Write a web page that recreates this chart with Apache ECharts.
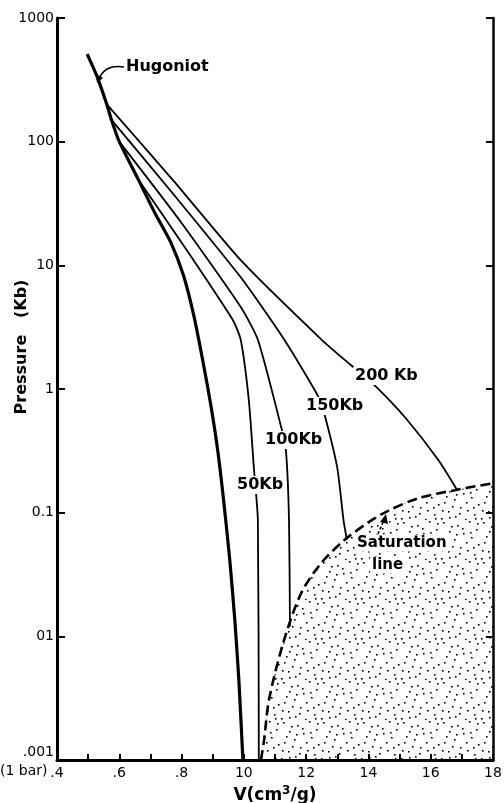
<!DOCTYPE html>
<html>
<head>
<meta charset="utf-8">
<script src="https://cdn.jsdelivr.net/npm/echarts@6/dist/echarts.min.js"></script>
<style>
  html, body { margin: 0; padding: 0; background: #fff; }
  #chart { width: 504px; height: 803px; }
</style>
</head>
<body>
<div id="chart"></div>
<script>
// V (cm3/g) and pressure (Kb)
const hugoniotV = [0.497, 0.53, 0.56, 0.575, 0.60, 0.66, 0.716, 0.765, 0.806, 0.839, 0.868, 0.894, 0.916, 0.935, 0.955, 0.971, 0.984, 0.997]
const hugoniotP = [510, 330, 200, 150, 100, 50, 26, 15.4, 8.3, 3.95, 1.7, 0.74, 0.32, 0.126, 0.041, 0.0135, 0.0044, 0.001]

const kb50V = [0.66, 0.813, 0.965, 0.99, 1.016, 1.032, 1.045, 1.048]
const kb50P = [50, 13.7, 3.6, 2.5, 0.81, 0.233, 0.087, 0.001]

const kb100V = [0.60, 0.80, 0.99, 1.045, 1.12, 1.135, 1.145, 1.148]
const kb100P = [100, 22, 4.6, 2.5, 0.49, 0.32, 0.087, 0.012]

const kb150V = [0.575, 0.78, 0.99, 1.13, 1.24, 1.26, 1.30, 1.32, 1.33]
const kb150P = [150, 36, 8, 2.5, 0.86, 0.61, 0.23, 0.087, 0.062]

const kb200V = [0.56, 0.775, 0.99, 1.25, 1.345, 1.42, 1.52, 1.625, 1.685]
const kb200P = [200, 48, 11, 2.5, 1.55, 1.07, 0.58, 0.265, 0.152]

const saturationV = [1.055, 1.065, 1.081, 1.129, 1.184, 1.248, 1.323, 1.40, 1.465, 1.561, 1.677, 1.80]
const saturationP = [0.001, 0.00145, 0.0031, 0.0093, 0.0223, 0.039, 0.060, 0.0835, 0.104, 0.131, 0.152, 0.173]

const xTickLabels = ['.4', '.6', '.8', '10', '12', '14', '16', '18']
const yTickLabels = ['.001', '01', '0.1', '1', '10', '100', '1000']

const pairs = (xs, ys) => xs.map((x, i) => [x, ys[i]])

// stipple tile for the two-phase region
const stippleDots = [[3,2],[17,5],[29,1],[36,9],[9,11],[23,13],[14,19],[31,17],[4,22],[38,24],
  [20,27],[27,30],[8,31],[34,34],[15,36],[1,38],[25,39],[11,6],[33,27],[19,33],[6,16],[26,22],
  [12,26],[37,3],[22,8],[2,30],[30,12],[16,14],[35,38],[9,37]]
const tile = document.createElement('canvas')
tile.width = 40
tile.height = 40
const tctx = tile.getContext('2d')
tctx.fillStyle = '#000'
stippleDots.forEach(d => tctx.fillRect(d[0], d[1], 1.6, 1.6))

const chart = echarts.init(document.getElementById('chart'))

const font = 'DejaVu Sans'
const curve = (name, xs, ys, width) => ({
  name,
  type: 'line',
  data: pairs(xs, ys),
  symbol: 'none',
  smooth: 0.2,
  lineStyle: { color: '#000', width },
  z: 3
})

const label = (text, x, y, size) => ({
  type: 'text',
  x, y,
  z: 100,
  style: {
    text,
    fill: '#000',
    font: 'bold ' + (size || 16) + 'px ' + font,
    align: 'left',
    verticalAlign: 'middle',
    backgroundColor: '#fff',
    padding: [1, 2]
  }
})

const option = {
  animation: false,
  backgroundColor: '#fff',
  grid: { left: 57, right: 11, top: 18, bottom: 43, outerBoundsMode: 'none' },
  xAxis: {
    type: 'value',
    min: 0.4,
    max: 1.8,
    interval: 0.2,
    name: 'V(cm{sup|3}/g)',
    nameLocation: 'middle',
    nameGap: 24,
    nameTextStyle: {
      fontFamily: font, fontSize: 17, fontWeight: 'bold', color: '#000',
      rich: { sup: { fontFamily: font, fontSize: 12, fontWeight: 'bold', padding: [0, 0, 9, 0] } }
    },
    axisLine: { lineStyle: { color: '#000', width: 3 } },
    axisTick: { inside: true, length: 6, lineStyle: { color: '#000', width: 2 } },
    minorTick: { show: true, splitNumber: 2, length: 6, lineStyle: { color: '#000', width: 2 } },
    splitLine: { show: false },
    axisLabel: {
      color: '#000', fontFamily: font, fontSize: 14, margin: 6,
      formatter: v => xTickLabels[Math.round((v - 0.4) / 0.2)]
    }
  },
  yAxis: [{
    type: 'log',
    logBase: 10,
    min: 0.001,
    max: 1000,
    position: 'left',
    axisLine: { show: true, lineStyle: { color: '#000', width: 3 } },
    axisTick: { show: true, inside: true, length: 8, lineStyle: { color: '#000', width: 2 } },
    splitLine: { show: false },
    axisLabel: {
      color: '#000', fontFamily: font, fontSize: 14, margin: 3, align: 'right',
      formatter: v => {
        const i = Math.round(Math.log10(v)) + 3
        // the bottom label sits a little above its tick, over "(1 bar)"
        return i === 0 ? '{low|' + yTickLabels[i] + '}' : yTickLabels[i]
      },
      rich: { low: { fontFamily: font, fontSize: 14, color: '#000', padding: [0, 0, 16, 0] } }
    }
  }, {
    type: 'log',
    logBase: 10,
    min: 0.001,
    max: 1000,
    position: 'right',
    axisLine: { show: true, lineStyle: { color: '#000', width: 2.5 } },
    axisTick: { show: true, inside: true, length: 7, lineStyle: { color: '#000', width: 2 } },
    splitLine: { show: false },
    axisLabel: { show: false }
  }],
  series: [
    {
      name: 'Saturation line',
      type: 'line',
      data: pairs(saturationV, saturationP),
      symbol: 'none',
      smooth: 0.3,
      lineStyle: { color: '#000', width: 2.6, type: [10, 5] },
      areaStyle: { color: { image: tile, repeat: 'repeat' }, origin: 'start', opacity: 1 },
      z: 2
    },
    curve('Hugoniot', hugoniotV, hugoniotP, 3.2),
    curve('50Kb', kb50V, kb50P, 1.8),
    curve('100Kb', kb100V, kb100P, 1.8),
    curve('150Kb', kb150V, kb150P, 1.8),
    curve('200Kb', kb200V, kb200P, 1.8)
  ],
  graphic: [
    {
      type: 'text',
      x: 22, y: 347,
      rotation: Math.PI / 2,
      style: { text: 'Pressure   (Kb)', fill: '#000', font: 'bold 16px ' + font, align: 'center', verticalAlign: 'middle' }
    },
    {
      type: 'text',
      x: 0, y: 771,
      style: { text: '(1 bar)', fill: '#000', font: '14px ' + font, align: 'left', verticalAlign: 'middle' }
    },
    label('Hugoniot', 124, 67),
    {
      type: 'bezierCurve',
      z: 100,
      shape: { x1: 124, y1: 67, cpx1: 105, cpy1: 64, x2: 99, y2: 79 },
      style: { stroke: '#000', lineWidth: 1.6, fill: null }
    },
    {
      type: 'polygon',
      z: 100,
      shape: { points: [[97, 83], [96, 74], [103, 78]] },
      style: { fill: '#000' }
    },
    label('200 Kb', 353, 376),
    label('150Kb', 304, 406),
    label('100Kb', 263, 440),
    label('50Kb', 235, 485),
    label('Saturation', 355, 543, 15),
    label('line', 370, 565, 15),
    {
      type: 'line',
      z: 100,
      shape: { x1: 378, y1: 534, x2: 384, y2: 520 },
      style: { stroke: '#000', lineWidth: 1.6, lineDash: [3, 2] }
    },
    {
      type: 'polygon',
      z: 100,
      shape: { points: [[386, 514], [380, 522], [388, 524]] },
      style: { fill: '#000' }
    }
  ]
}

chart.setOption(option)
</script>
</body>
</html>
